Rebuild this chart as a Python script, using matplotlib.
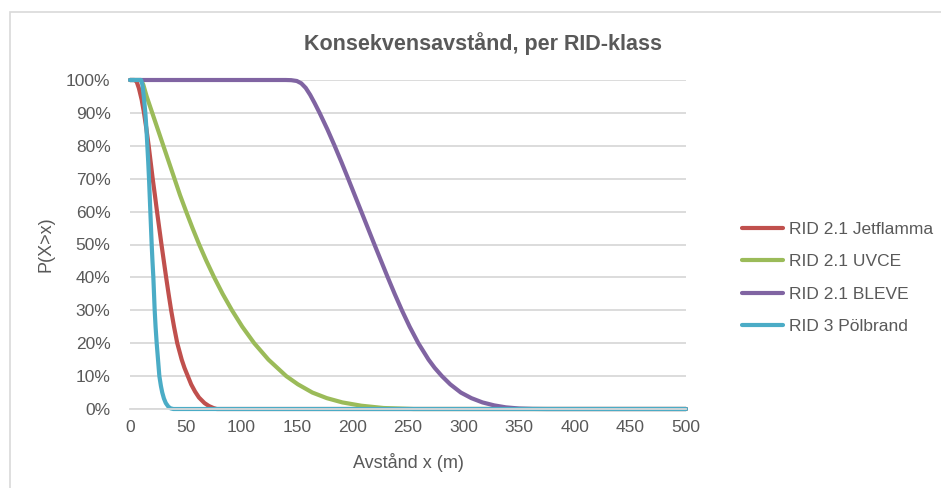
import matplotlib.pyplot as plt
from matplotlib.patches import Rectangle
from matplotlib.ticker import PercentFormatter

plt.rcParams['font.family'] = ['Liberation Sans', 'DejaVu Sans']

# Avstånd (m) och sannolikhet P(X>x) i procent för varje RID-klass
jet_x = [0, 4, 6, 8, 10.5, 12.6, 14.8, 16.8, 18.6, 20.4, 22.4, 24.3, 26.3, 28.3, 30.4, 32.5,
         34.7, 37, 39.6, 42.5, 46.5, 49, 52, 55, 58.5, 62, 67, 71, 75, 78, 500]
jet_y = [100, 100, 99.5, 97.5, 94, 90, 85, 80, 75, 70, 65, 60, 55, 50, 45, 40,
         35, 30, 25, 20, 15, 12.5, 10, 7.5, 5.3, 3.5, 1.8, 0.9, 0.3, 0, 0]

uvce_x = [0, 10, 12, 15, 20, 25, 30, 35, 40, 45, 50.5, 56.2, 62.2, 68.7, 75.7, 83.3, 91.7,
          101, 111.7, 124.5, 140.5, 151, 164, 177, 191, 208, 228, 255, 500]
uvce_y = [100, 100, 98.5, 95, 90, 85, 80, 75, 70, 65, 60, 55, 50, 45, 40, 35, 30,
          25, 20, 15, 10, 7.5, 5, 3.3, 2, 1, 0.3, 0, 0]

bleve_x = [0, 140, 145, 150, 154, 158, 162, 166, 170.5, 177.5, 184, 190.2, 196.2, 202.1, 208,
           213.9, 219.8, 225.8, 231.8, 238, 244.5, 251.5, 259.3, 268.5, 274, 280.5, 288,
           297.5, 307, 317, 327.5, 338, 350, 362, 375, 500]
bleve_y = [100, 100, 99.95, 99.7, 99, 97.6, 95.5, 93, 90, 85, 80, 75, 70, 65, 60,
           55, 50, 45, 40, 35, 30, 25, 20, 15, 12.5, 10, 7.5,
           5, 3.3, 2, 1.1, 0.5, 0.15, 0.03, 0, 0]

pol_x = [0, 10, 11.2, 12.4, 13.8, 14.8, 15.6, 16.4, 17.1, 17.7, 18.3, 18.9, 19.5, 20.2, 21,
         21.6, 22.2, 23, 24, 25.2, 26.4, 27.8, 29, 30.5, 32.2, 34.5, 36.5, 39, 500]
pol_y = [100, 100, 98.5, 95, 90, 85, 80, 75, 70, 65, 60, 55, 50, 45, 40,
         35, 30, 25, 20, 15, 10, 7, 5, 3.2, 1.8, 0.7, 0.2, 0, 0]

labels = ['RID 2.1 Jetflamma', 'RID 2.1 UVCE', 'RID 2.1 BLEVE', 'RID 3 Pölbrand']
colors = ['#C0504D', '#9BBB59', '#8064A2', '#4BACC6']
x_ticks = list(range(0, 501, 50))
y_ticks = list(range(0, 101, 10))

text_color = '#595959'
grid_color = '#D9D9D9'

fig = plt.figure(figsize=(9.41, 4.88), dpi=100)
ax = fig.add_axes([130 / 941, 1 - 409 / 488, (686 - 130) / 941, (409 - 80) / 488])

series = [(jet_x, jet_y), (uvce_x, uvce_y), (bleve_x, bleve_y), (pol_x, pol_y)]
for (xs, ys), lab, col in zip(series, labels, colors):
    ax.plot(xs, ys, color=col, lw=3, label=lab, solid_capstyle='round',
            solid_joinstyle='round', clip_on=False)

ax.set_xlim(0, 500)
ax.set_ylim(0, 100)
ax.set_xticks(x_ticks)
ax.set_yticks(y_ticks)
ax.yaxis.set_major_formatter(PercentFormatter(decimals=0))
ax.grid(axis='y', color=grid_color, lw=1.3)
ax.set_axisbelow(True)
for side in ['left', 'right', 'top']:
    ax.spines[side].set_visible(False)
ax.spines['bottom'].set_color(grid_color)
ax.spines['bottom'].set_linewidth(1.3)
ax.tick_params(length=0, labelsize=12.5, labelcolor=text_color, pad=8)
ax.tick_params(axis='y', pad=14)

ax.set_xlabel('Avstånd x (m)', fontsize=13, color=text_color, labelpad=13)
ax.set_ylabel('P(X>x)', fontsize=13, color=text_color, labelpad=8)

fig.text(483 / 941, 1 - 44 / 488, 'Konsekvensavstånd, per RID-klass', ha='center', va='center',
         fontsize=15.5, fontweight='bold', color=text_color)

ax.legend(loc='center left', bbox_to_anchor=(733 / 941, 1 - 278 / 488),
          bbox_transform=fig.transFigure, frameon=False, fontsize=12.5,
          handlelength=2.4, handletextpad=0.3, labelspacing=1.0, borderpad=0,
          labelcolor=text_color)

# ram runt diagramytan
fig.patches.append(Rectangle((9.5 / 941, -0.1), 1.2, 1.1 - 12.5 / 488,
                             transform=fig.transFigure, fill=False,
                             edgecolor=grid_color, lw=1.2))

fig.savefig('out.png', dpi=100)
